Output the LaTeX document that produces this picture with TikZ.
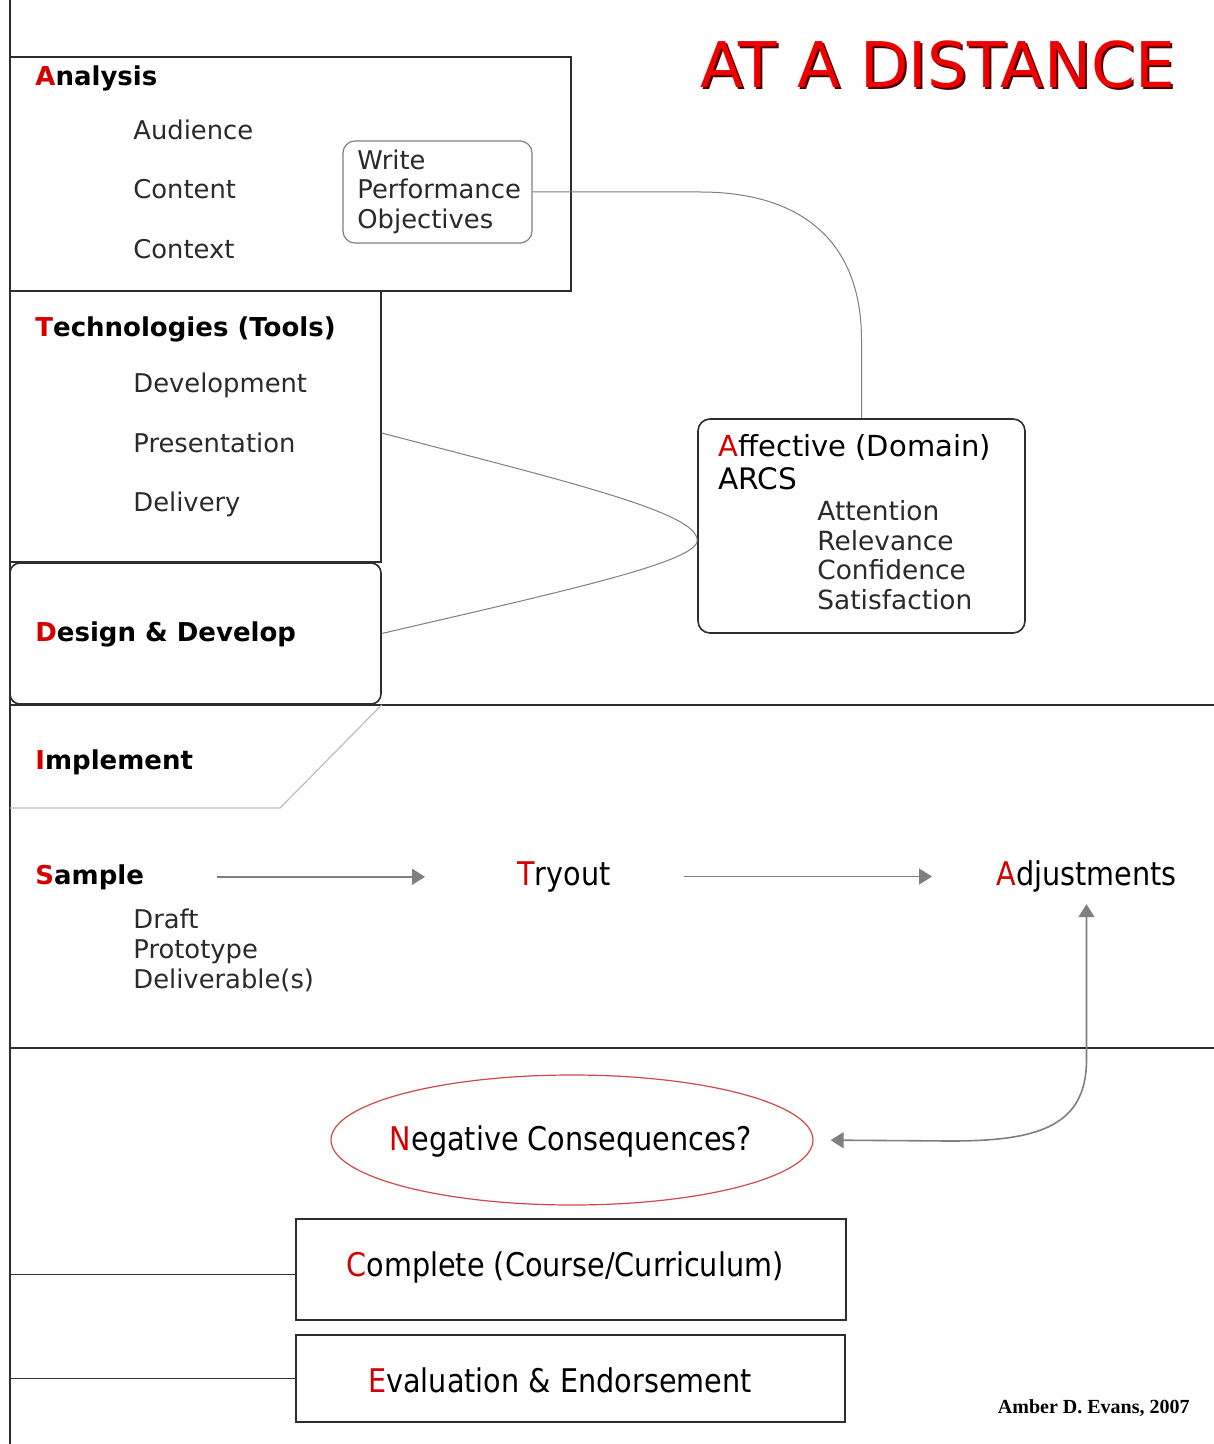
\documentclass[tikz,border=0pt]{standalone}
\usepackage{fontspec}
\setmainfont{DejaVu Sans}
\newfontfamily\condfont{DejaVu Sans}[FakeStretch=0.88]
\newfontfamily\creditfont{Liberation Serif}
\usetikzlibrary{arrows.meta,fit,shapes.geometric}

\definecolor{capred}{HTML}{D40000}
\definecolor{titlered}{HTML}{EE0000}
\definecolor{titleshade}{HTML}{4A0000}
\definecolor{framegray}{HTML}{2E2E2E}
\definecolor{linkgray}{HTML}{7F7F7F}
\definecolor{faintgray}{HTML}{BDBDBD}
\definecolor{textgray}{HTML}{2A2A2A}
\definecolor{ovalred}{HTML}{D04848}

% first letter of every stage in red
\newcommand\initial[1]{\textcolor{capred}{#1}}

\begin{document}
\begin{tikzpicture}[x=0.5pt,y=-0.5pt,
  frame/.style={draw=framegray, line width=0.8pt, inner sep=0pt},
  frameline/.style={draw=framegray, line width=0.8pt},
  rframe/.style={frame, rounded corners=5pt},
  softframe/.style={draw=linkgray, line width=0.6pt, inner sep=0pt, rounded corners=6pt},
  head/.style={anchor=base west, inner sep=0pt, font=\fontsize{13}{15}\selectfont\bfseries, text=black},
  item/.style={anchor=base west, inner sep=0pt, font=\fontsize{12.9}{15}\selectfont, text=textgray},
  arcs/.style={anchor=base west, inner sep=0pt, font=\fontsize{13.2}{15}\selectfont, text=textgray},
  big/.style={inner sep=0pt, font=\condfont\fontsize{16.3}{19}\selectfont, text=black},
  link/.style={draw=linkgray, line width=0.5pt},
  faint/.style={draw=faintgray, line width=0.6pt},
  gtip/.tip={Triangle[length=6.5pt,width=8pt]},
  flow/.style={draw=linkgray, line width=0.8pt, -gtip},
]
\useasboundingbox (0,0) rectangle (1214,1444);
\fill[white] (0,0) rectangle (1214,1444);

% page spine and section dividers
\coordinate (spinetop) at (10,0);
\coordinate (spinebot) at (10,1444);
\coordinate (divAl) at (10,705);
\coordinate (divAr) at (1214,705);
\coordinate (divBl) at (10,1048);
\coordinate (divBr) at (1214,1048);
\draw[frameline] (spinetop) -- (spinebot);
\draw[frameline] (divAl) -- (divAr);
\draw[frameline] (divBl) -- (divBr);

% title
\node[anchor=base west, inner sep=0pt, font=\fontsize{31.5}{36}\selectfont, text=titleshade] (titleshadow) at (702,90) {AT A DISTANCE};
\node[anchor=base west, inner sep=0pt, font=\fontsize{31.5}{36}\selectfont, text=titlered] (title) at (700,88) {AT A DISTANCE};

% Analysis
\node[frame, fit={(10,57) (571,291)}] (ana) {};
\node[head] (anaH) at (35,86) {\initial{A}nalysis};
\node[item] (aud) at (133,140) {Audience};
\node[item] (cont) at (133,199) {Content};
\node[item] (ctx) at (133,259) {Context};
\node[softframe, fit={(343,141) (532,243)}] (wpo) {};
\node[item] (wpo1) at (357,170) {Write};
\node[item] (wpo2) at (357,199) {Performance};
\node[item] (wpo3) at (357,229) {Objectives};

% Technologies
\node[frame, fit={(10,291) (381,562)}] (tech) {};
\node[head] (techH) at (35,336) {\initial{T}echnologies (Tools)};
\node[item] (dev) at (133,393) {Development};
\node[item] (pres) at (133,452) {Presentation};
\node[item] (deliv) at (133,511) {Delivery};

% Design & Develop
\node[rframe, fit={(10,563) (381,704)}] (design) {};
\node[head] (designH) at (35,641) {\initial{D}esign \& Develop};

% Affective domain
\node[rframe, rounded corners=6pt, fit={(698,419) (1025,633)}] (aff) {};
\node[anchor=base west, inner sep=0pt, font=\fontsize{14.5}{17}\selectfont] (affH) at (718,456) {\initial{A}ffective (Domain)};
\node[anchor=base west, inner sep=0pt, font=\fontsize{14.8}{17}\selectfont] (arcsH) at (718,489) {ARCS};
\node[arcs] (att) at (817,520) {Attention};
\node[arcs] (rel) at (817,550) {Relevance};
\node[arcs] (conf) at (817,579) {Confidence};
\node[arcs] (sat) at (817,609) {Satisfaction};

% connectors into the affective box
\draw[link] (wpo.east) -- (700,192) .. controls (800,192) and (aff.north |- 0,240) .. (aff.north |- 0,340) -- (aff.north);
\draw[link] (tech.-2) .. controls (560,480) and (698,512) .. (aff.185);
\draw[link] (design.east) .. controls (560,592) and (698,562) .. (aff.185);

% Implement
\node[head] (implH) at (35,769) {\initial{I}mplement};
\coordinate (implBend) at (280,808);
\draw[faint] (design.south east) -- (implBend) -- (implBend -| spinetop);

% Sample / Tryout / Adjustments
\node[head] (sample) at (35,884) {\initial{S}ample};
\node[item] (draft) at (133,928) {Draft};
\node[item] (proto) at (133,958) {Prototype};
\node[item] (deliverables) at (133,988) {Deliverable(s)};
\node[big, anchor=base west] (tryout) at (517,885) {\initial{T}ryout};
\node[big, anchor=base west] (adj) at (996,885) {\initial{A}djustments};
\draw[flow, shorten <=36.5pt, shorten >=46pt] (sample.east) -- (sample.east -| tryout.west);
\draw[flow, shorten <=36.5pt, shorten >=32pt] (tryout.east) -- (tryout.east -| adj.west);

% Negative consequences
\node[ellipse, draw=ovalred, line width=0.6pt, minimum width=241pt, minimum height=65pt, inner sep=0pt] (neg) at (572,1140) {};
\node[big] (negT) at (571,1141) {\initial{N}egative Consequences?};
\draw[flow, gtip-gtip, shorten <=6pt, shorten >=8.5pt] (adj.south) -- (adj.south |- 0,1060)
  .. controls (adj.south |- 0,1128) and (1035,1141) .. (950,1141) -- (neg.east);

% Complete and Evaluation
\node[frame, fit={(296,1219) (846,1320)}] (comp) {};
\node[big] (compT) at (565,1267) {\initial{C}omplete (Course/Curriculum)};
\node[frame, fit={(296,1335) (845,1422)}] (eval) {};
\node[big] (evalT) at (560,1380) {\initial{E}valuation \& Endorsement};
\draw[frameline] (comp.181) -- (comp.181 -| spinetop);
\draw[frameline] (eval.180.5) -- (eval.180.5 -| spinetop);

% credit
\node[anchor=base east, inner sep=0pt, font=\creditfont\bfseries\fontsize{10}{12}\selectfont] (credit) at (1190,1413) {Amber D. Evans, 2007};
\end{tikzpicture}
\end{document}
